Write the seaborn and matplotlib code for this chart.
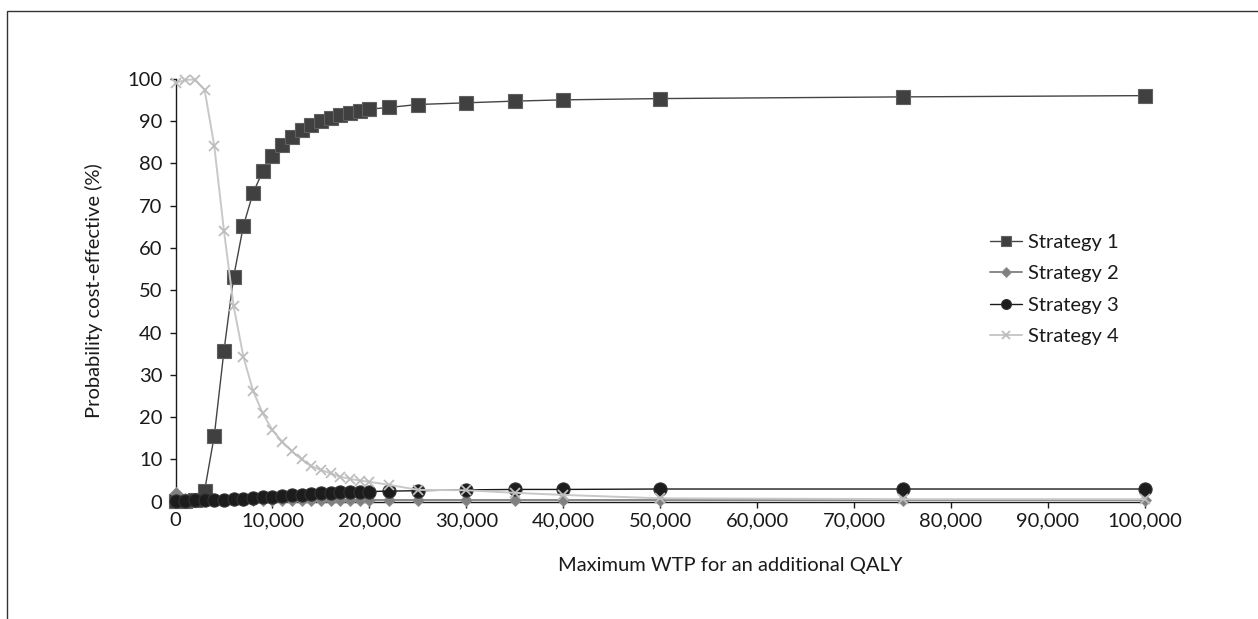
import matplotlib
matplotlib.use("Agg")
import matplotlib.pyplot as plt
import matplotlib.ticker as mticker
import seaborn as sns
import pandas as pd

# Willingness-to-pay thresholds (per QALY)
wtp = [0, 1000, 2000, 3000, 4000, 5000, 6000, 7000, 8000, 9000, 10000,
       11000, 12000, 13000, 14000, 15000, 16000, 17000, 18000, 19000, 20000,
       22000, 25000, 30000, 35000, 40000, 50000, 75000, 100000]

strategy_1 = [0.1, 0.2, 0.5, 2.6, 15.6, 35.7, 53.2, 65.2, 73.0, 78.1, 81.7,
              84.3, 86.3, 87.8, 89.0, 90.0, 90.8, 91.5, 92.0, 92.4, 92.8,
              93.2, 93.9, 94.3, 94.7, 95.0, 95.3, 95.7, 96.0]
strategy_2 = [2.0, 0.6, 0.5, 0.5, 0.5, 0.5, 0.5, 0.5, 0.5, 0.5, 0.5,
              0.5, 0.5, 0.5, 0.5, 0.5, 0.5, 0.5, 0.5, 0.5, 0.4,
              0.4, 0.4, 0.4, 0.4, 0.4, 0.4, 0.4, 0.4]
strategy_3 = [0.2, 0.2, 0.3, 0.3, 0.4, 0.5, 0.6, 0.7, 0.9, 1.0, 1.2,
              1.4, 1.6, 1.7, 1.9, 2.0, 2.1, 2.2, 2.3, 2.3, 2.4,
              2.5, 2.6, 2.8, 2.9, 2.9, 3.0, 3.0, 3.0]
strategy_4 = [99.0, 99.7, 99.8, 97.4, 84.1, 64.0, 46.2, 34.3, 26.2, 20.9, 16.9,
              14.2, 11.9, 10.0, 8.4, 7.5, 6.7, 5.9, 5.4, 5.0, 4.7,
              4.0, 2.8, 2.7, 2.1, 1.6, 0.8, 0.6, 0.6]

series_names = ["Strategy 1", "Strategy 2", "Strategy 3", "Strategy 4"]
x_ticks = list(range(0, 100001, 10000))
y_ticks = list(range(0, 101, 10))

sns.set_theme(style="white")
plt.rcParams["font.family"] = ["Lato", "DejaVu Sans"]
plt.rcParams["font.size"] = 14.5
text_color = "#1a1a1a"
fs = 14.5

fig = plt.figure(figsize=(12.58, 6.19), dpi=100)
fig.patch.set_facecolor("white")
ax = fig.add_axes([175.5 / 1258, 1 - 501.7 / 619, (1145 - 175.5) / 1258, (501.7 - 78.7) / 619])

styles = [
    dict(marker="s", color="#444444", markersize=9.5, markerfacecolor="#404040",
         markeredgecolor="#606060", markeredgewidth=0.8, linewidth=1.0),
    dict(marker="D", color="#7f7f7f", markersize=6.5, markerfacecolor="#808080",
         markeredgecolor="#909090", markeredgewidth=0.6, linewidth=1.3),
    dict(marker="o", color="#1a1a1a", markersize=9.5, markerfacecolor="#1c1c1c",
         markeredgecolor="#333333", markeredgewidth=0.8, linewidth=1.0),
    dict(marker="x", color="#c8c8c8", markersize=7, markeredgecolor="#bdbdbd",
         markeredgewidth=1.3, linewidth=1.4),
]

values = [strategy_1, strategy_2, strategy_3, strategy_4]
for name, vals, st in zip(series_names, values, styles):
    df = pd.DataFrame({"wtp": wtp, "prob": vals})
    sns.lineplot(data=df, x="wtp", y="prob", ax=ax, label=name,
                 clip_on=False, zorder=3, **st)

ax.set_xlim(0, 100000)
ax.set_ylim(0, 100)
ax.set_xticks(x_ticks)
ax.set_yticks(y_ticks)
ax.xaxis.set_major_formatter(mticker.FuncFormatter(lambda v, p: f"{int(v):,}"))
ax.tick_params(axis="both", which="major", direction="out", length=4.5, width=1.0,
               color="#1a1a1a", labelsize=fs, labelcolor=text_color,
               bottom=True, left=True)
ax.tick_params(axis="x", pad=3)
ax.tick_params(axis="y", pad=5)

for side in ("top", "right"):
    ax.spines[side].set_visible(False)
for side in ("left", "bottom"):
    ax.spines[side].set_color("#1a1a1a")
    ax.spines[side].set_linewidth(1.0)
ax.grid(False)

ax.set_xlabel("Maximum WTP for an additional QALY", fontsize=fs, color=text_color)
ax.set_ylabel("Probability cost-effective (%)", fontsize=fs, color=text_color)
ax.xaxis.set_label_coords(0.572, -0.13)
ax.yaxis.set_label_coords(-0.075, 0.5)

leg = ax.legend(loc="center left", bbox_to_anchor=(990 / 1258, 1 - 289.5 / 619),
                bbox_transform=fig.transFigure, frameon=False, fontsize=fs,
                handlelength=1.6, handletextpad=0.3, labelspacing=0.72,
                borderpad=0, borderaxespad=0, markerscale=0.75)
for t in leg.get_texts():
    t.set_color(text_color)

# outer chart border
border = plt.Rectangle((6.7 / 1258, -0.1), 1.2, 1 - 11 / 619 + 0.1,
                       transform=fig.transFigure, fill=False,
                       edgecolor="#333333", linewidth=1.0, clip_on=False)
fig.patches.append(border)

fig.savefig("out.png", dpi=100, facecolor="white")
